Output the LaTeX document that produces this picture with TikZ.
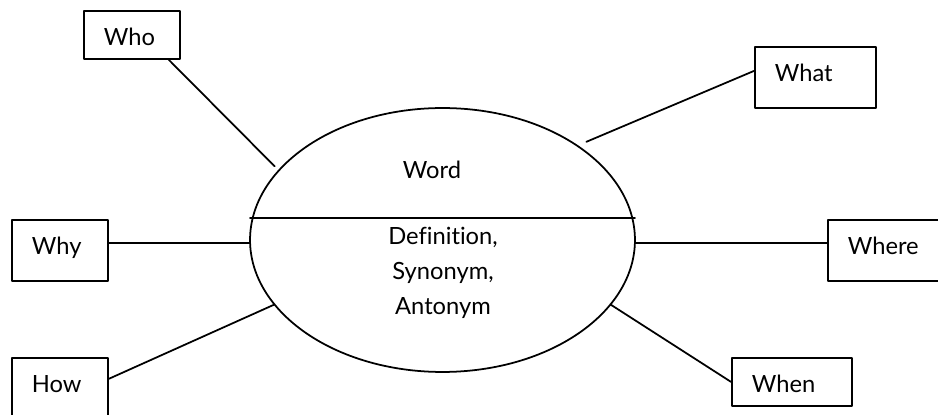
\documentclass[tikz,border=0pt]{standalone}
\usepackage{fontspec}
\setmainfont[Ligatures=CommonOff]{Lato}
\usetikzlibrary{shapes.geometric}

\begin{document}
\begin{tikzpicture}[line cap=round,line join=round,x=0.02cm,y=-0.02cm,
  every node/.style={font=\fontsize{13.5}{19.9}\selectfont},
  qbox/.style={draw,line width=1pt,rectangle,anchor=north west,align=left,inner xsep=0.4cm,inner ysep=0pt,text height=0.7cm},
  lowq/.style={qbox,text depth=0.26cm},
  highq/.style={qbox,text depth=0.52cm}]
\useasboundingbox (0,0) rectangle (938,415);
\clip (0,0) rectangle (938,415);
\node (word) [draw,line width=1pt,ellipse,minimum width=7.7cm,minimum height=5.28cm,inner sep=0pt,outer sep=0pt] at (442.5,240) {};
\coordinate (cut) at (442.5,218);
\draw [line width=1pt] (cut -| word.west) -- (cut -| word.east);
\node (wordtext) [anchor=base] at (432,179) {Word};
\node (meaning) [anchor=north,align=center,inner sep=0pt] at (443,227) {Definition,\\Synonym,\\Antonym};
\node (who) [lowq,text width=1.12cm] at (83,10) {Who};
\node (what) [highq,text width=1.62cm] at (754,46) {What};
\node (why) [highq,text width=1.12cm] at (11,219) {Why};
\node (where) [highq,text width=1.62cm] at (827,219) {Where};
\node (how) [highq,text width=1.12cm] at (11,357) {How};
\node (when) [lowq,text width=1.6cm] at (731,357) {When};
\draw [line width=1pt,shorten >=0.12cm] (who.-34) -- (word.157);
\draw [line width=1pt,shorten >=0.2cm] (what.174) -- (word.35);
\draw [line width=1pt] (word.181) -- (word.181 -| why.east);
\draw [line width=1pt] (word.-1) -- (word.-1 -| where.west);
\draw [line width=1pt] (how.11) -- (word.201);
\draw [line width=1pt] (when.west) -- (word.-21);
\end{tikzpicture}
\end{document}
